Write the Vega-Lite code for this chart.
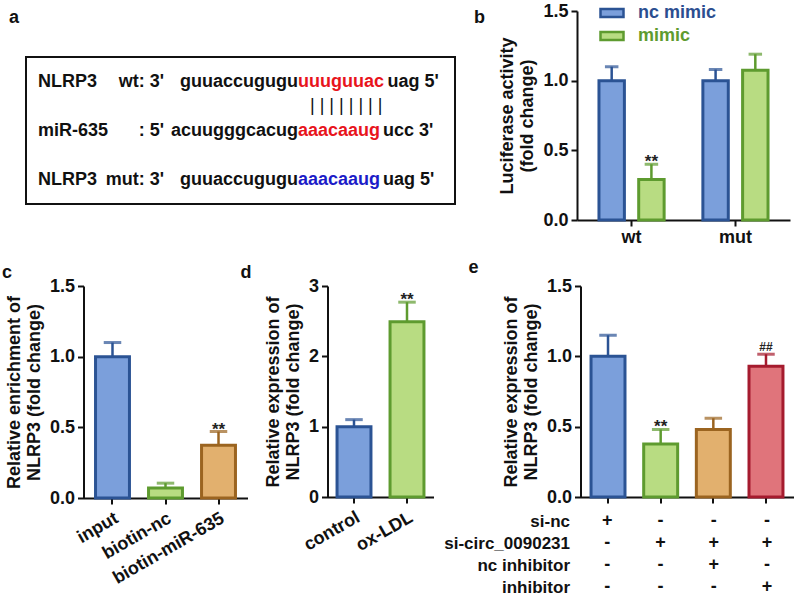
{
  "$schema": "https://vega.github.io/schema/vega-lite/v6.json",
  "background": "white",
  "padding": {"left": 2, "top": 0, "right": 0, "bottom": 0},
  "spacing": 13,
  "resolve": {"scale": {"fill": "independent", "stroke": "independent", "color": "independent"}},
  "config": {
    "font": "Liberation Sans",
    "view": {"stroke": null},
    "axis": {"labelFont": "Liberation Sans", "labelFontSize": 18, "labelFontWeight": "bold", "labelColor": "#111111", "titleFont": "Liberation Sans", "titleFontSize": 18, "titleFontWeight": "bold", "titleColor": "#111111", "domainColor": "#111111", "domainWidth": 2, "tickColor": "#111111", "tickWidth": 2, "tickSize": 6, "grid": false, "titleLineHeight": 20},
    "axisX": {"labelPadding": 2},
    "axisY": {"labelPadding": 3, "titlePadding": 6},
    "title": {"font": "Liberation Sans", "fontSize": 18, "fontWeight": "bold", "color": "#111111", "anchor": "start", "frame": "group", "offset": 0, "baseline": "alphabetic"},
    "text": {"font": "Liberation Sans"}
  },
  "vconcat": [
    {
      "hconcat": [
        {
          "vconcat": [
            {"width": 1, "height": 46, "title": {"text": "a", "dx": -17, "dy": 20}, "data": {"values": [{}]}, "mark": {"type": "point", "opacity": 0}, "encoding": {}},
            {
              "width": 429, "height": 147,
              "view": {"stroke": "#111111", "strokeWidth": 2},
              "title": {"text": "b", "anchor": "end", "align": "left", "dx": 19, "dy": -26},
              "data": {"values": [
                {"line": "wt", "part": "name", "text": "NLRP3", "role": "flank"},
                {"line": "wt", "part": "tag", "text": "wt: 3'", "role": "flank"},
                {"line": "wt", "part": "pre", "text": "guuaccugugu", "role": "flank"},
                {"line": "wt", "part": "seed", "text": "uuuguuac", "role": "binding site"},
                {"line": "wt", "part": "post", "text": "uag 5'", "role": "flank"},
                {"line": "pair", "part": "pair", "text": "|\u00a0|\u00a0|\u00a0|\u00a0|\u00a0|\u00a0|\u00a0|", "role": "flank"},
                {"line": "miR", "part": "name", "text": "miR-635", "role": "flank"},
                {"line": "miR", "part": "tag", "text": ": 5'", "role": "flank"},
                {"line": "miR", "part": "pre", "text": "acuugggcacug", "role": "flank"},
                {"line": "miR", "part": "seed", "text": "aaacaaug", "role": "binding site"},
                {"line": "miR", "part": "post", "text": "ucc 3'", "role": "flank"},
                {"line": "mut", "part": "name", "text": "NLRP3", "role": "flank"},
                {"line": "mut", "part": "tag", "text": "mut: 3'", "role": "flank"},
                {"line": "mut", "part": "pre", "text": "guuaccugugu", "role": "flank"},
                {"line": "mut", "part": "seed", "text": "aaacaaug", "role": "mutated site"},
                {"line": "mut", "part": "post", "text": "uag 5'", "role": "flank"}
              ]},
              "encoding": {
                "y": {"field": "line", "type": "nominal", "scale": {"type": "point", "domain": ["wt", "pair", "miR", "gap", "mut"], "padding": 1.32}, "axis": null},
                "text": {"field": "text", "type": "nominal"},
                "color": {"field": "role", "type": "nominal", "scale": {"domain": ["flank", "binding site", "mutated site"], "range": ["#111111", "#E8141C", "#1C1CC8"]}, "legend": null}
              },
              "layer": [
                {"transform": [{"filter": "datum.part === 'name'"}], "mark": {"type": "text", "align": "left", "baseline": "middle", "dx": -202.5, "fontSize": 18, "fontWeight": "bold"}},
                {"transform": [{"filter": "datum.part === 'tag'"}], "mark": {"type": "text", "align": "right", "baseline": "middle", "dx": -76.5, "fontSize": 18, "fontWeight": "bold"}},
                {"transform": [{"filter": "datum.part === 'pre'"}], "mark": {"type": "text", "align": "right", "baseline": "middle", "dx": 57.5, "fontSize": 18, "fontWeight": "bold"}},
                {"transform": [{"filter": "datum.part === 'seed'"}], "mark": {"type": "text", "align": "left", "baseline": "middle", "dx": 57.5, "fontSize": 18, "fontWeight": "bold"}},
                {"transform": [{"filter": "datum.part === 'post' && datum.line === 'wt'"}], "mark": {"type": "text", "align": "left", "baseline": "middle", "dx": 147, "fontSize": 18, "fontWeight": "bold"}},
                {"transform": [{"filter": "datum.part === 'post' && datum.line !== 'wt'"}], "mark": {"type": "text", "align": "left", "baseline": "middle", "dx": 142.5, "fontSize": 18, "fontWeight": "bold"}},
                {"transform": [{"filter": "datum.part === 'pair'"}], "mark": {"type": "text", "align": "left", "baseline": "middle", "dx": 69.5, "fontSize": 18, "fontWeight": "normal"}}
              ]
            }
          ],
          "spacing": 0,
          "bounds": "flush",
          "resolve": {"scale": {"fill": "independent", "stroke": "independent", "color": "independent"}}
        },
        {
          "width": 213, "height": 209,
          "data": {"values": [
            {"probe": "wt", "group": "nc mimic", "mean": 1.0, "upper": 1.1, "sig": ""},
            {"probe": "wt", "group": "mimic", "mean": 0.29, "upper": 0.4, "sig": "**"},
            {"probe": "mut", "group": "nc mimic", "mean": 1.0, "upper": 1.08, "sig": ""},
            {"probe": "mut", "group": "mimic", "mean": 1.075, "upper": 1.19, "sig": ""}
          ]},
          "encoding": {
            "x": {"field": "probe", "type": "nominal", "sort": ["wt", "mut"], "scale": {"paddingInner": 0.35, "paddingOuter": 0.2}, "axis": {"title": null, "labelAngle": 0}},
            "xOffset": {"field": "group", "type": "nominal", "sort": ["nc mimic", "mimic"], "scale": {"paddingInner": 0.36, "paddingOuter": 0.03}}
          },
          "layer": [
            {
              "mark": {"type": "bar", "strokeWidth": 3},
              "encoding": {
                "y": {"field": "mean", "type": "quantitative", "scale": {"domain": [0, 1.5]}, "axis": {"title": ["Luciferase activity", "(fold change)"], "values": [0, 0.5, 1, 1.5], "format": ".1f"}},
                "fill": {"field": "group", "type": "nominal", "scale": {"domain": ["nc mimic", "mimic"], "range": ["#7B9FDB", "#B8DC82"]},
                  "legend": {"title": null, "orient": "none", "legendX": 22, "legendY": -11, "symbolType": "M-1,-0.35L1,-0.35L1,0.35L-1,0.35Z", "symbolSize": 529, "symbolStrokeWidth": 2.5, "labelFont": "Liberation Sans", "labelFontSize": 18, "labelFontWeight": "bold", "labelOffset": 13, "rowPadding": 0,
                    "encode": {"labels": {"update": {"fill": {"signal": "datum.value === 'nc mimic' ? '#2B4E90' : '#5E9B2F'"}}}, "symbols": {"update": {"stroke": {"signal": "datum.value === 'nc mimic' ? '#2B5394' : '#5E9B2F'"}, "strokeWidth": {"value": 2.5}}}}}},
                "stroke": {"field": "group", "type": "nominal", "scale": {"domain": ["nc mimic", "mimic"], "range": ["#2B5394", "#5E9B2F"]}, "legend": null}
              }
            },
            {
              "mark": {"type": "rule", "strokeWidth": 2.5},
              "encoding": {
                "y": {"field": "mean", "type": "quantitative", "scale": {"domain": [0, 1.5]}, "axis": {"title": ["Luciferase activity", "(fold change)"], "values": [0, 0.5, 1, 1.5], "format": ".1f"}},
                "y2": {"field": "upper"},
                "stroke": {"field": "group", "type": "nominal", "scale": {"domain": ["nc mimic", "mimic"], "range": ["#2B5394", "#5E9B2F"]}, "legend": null}
              }
            },
            {
              "mark": {"type": "tick", "filled": false, "thickness": 0.5, "size": 11, "strokeWidth": 2.5},
              "encoding": {
                "y": {"field": "upper", "type": "quantitative", "scale": {"domain": [0, 1.5]}, "axis": {"title": ["Luciferase activity", "(fold change)"], "values": [0, 0.5, 1, 1.5], "format": ".1f"}},
                "stroke": {"field": "group", "type": "nominal", "scale": {"domain": ["nc mimic", "mimic"], "range": ["#2B5394", "#5E9B2F"]}, "legend": null}
              }
            },
            {
              "mark": {"type": "text", "baseline": "alphabetic", "dy": 3, "fontSize": 17, "fontWeight": "bold", "color": "#222222"},
              "encoding": {
                "y": {"field": "upper", "type": "quantitative", "scale": {"domain": [0, 1.5]}, "axis": {"title": ["Luciferase activity", "(fold change)"], "values": [0, 0.5, 1, 1.5], "format": ".1f"}},
                "text": {"field": "sig", "type": "nominal"}
              }
            }
          ]
        }
      ],
      "spacing": 12,
      "resolve": {"scale": {"fill": "independent", "stroke": "independent", "color": "independent"}}
    },
    {
      "hconcat": [
        {
          "hconcat": [
            {"width": 17.5, "height": 10, "title": {"text": "c", "dx": -24, "dy": 0}, "data": {"values": [{}]}, "mark": {"type": "point", "opacity": 0}, "encoding": {}},
            {
              "width": 164, "height": 212,
              "data": {"values": [
                {"probe": "input", "mean": 1.0, "upper": 1.1, "sig": ""},
                {"probe": "biotin-nc", "mean": 0.07, "upper": 0.105, "sig": ""},
                {"probe": "biotin-miR-635", "mean": 0.373, "upper": 0.47, "sig": "**"}
              ]},
              "encoding": {
                "x": {"field": "probe", "type": "nominal", "sort": ["input", "biotin-nc", "biotin-miR-635"], "scale": {"paddingInner": 0.36, "paddingOuter": 0.227}, "axis": {"title": null, "labelAngle": -30, "labelAlign": "right", "labelBaseline": "top", "labelPadding": 5}}
              },
              "layer": [
                {
                  "mark": {"type": "bar", "strokeWidth": 3},
                  "encoding": {
                    "y": {"field": "mean", "type": "quantitative", "scale": {"domain": [0, 1.5]}, "axis": {"title": ["Relative enrichment of", "NLRP3 (fold change)"], "values": [0, 0.5, 1, 1.5], "format": ".1f"}},
                    "fill": {"field": "probe", "type": "nominal", "scale": {"domain": ["input", "biotin-nc", "biotin-miR-635"], "range": ["#7B9FDB", "#B8DC82", "#E2B06E"]}, "legend": null},
                    "stroke": {"field": "probe", "type": "nominal", "scale": {"domain": ["input", "biotin-nc", "biotin-miR-635"], "range": ["#2B5394", "#5E9B2F", "#9B6420"]}, "legend": null}
                  }
                },
                {
                  "mark": {"type": "rule", "strokeWidth": 2.5},
                  "encoding": {
                    "y": {"field": "mean", "type": "quantitative", "scale": {"domain": [0, 1.5]}, "axis": {"title": ["Relative enrichment of", "NLRP3 (fold change)"], "values": [0, 0.5, 1, 1.5], "format": ".1f"}},
                    "y2": {"field": "upper"},
                    "stroke": {"field": "probe", "type": "nominal", "scale": {"domain": ["input", "biotin-nc", "biotin-miR-635"], "range": ["#2B5394", "#5E9B2F", "#9B6420"]}, "legend": null}
                  }
                },
                {
                  "mark": {"type": "tick", "filled": false, "thickness": 0.5, "size": 15, "strokeWidth": 2.5},
                  "encoding": {
                    "y": {"field": "upper", "type": "quantitative", "scale": {"domain": [0, 1.5]}, "axis": {"title": ["Relative enrichment of", "NLRP3 (fold change)"], "values": [0, 0.5, 1, 1.5], "format": ".1f"}},
                    "stroke": {"field": "probe", "type": "nominal", "scale": {"domain": ["input", "biotin-nc", "biotin-miR-635"], "range": ["#2B5394", "#5E9B2F", "#9B6420"]}, "legend": null}
                  }
                },
                {
                  "mark": {"type": "text", "baseline": "alphabetic", "dy": 3, "fontSize": 17, "fontWeight": "bold", "color": "#222222"},
                  "encoding": {
                    "y": {"field": "upper", "type": "quantitative", "scale": {"domain": [0, 1.5]}, "axis": {"title": ["Relative enrichment of", "NLRP3 (fold change)"], "values": [0, 0.5, 1, 1.5], "format": ".1f"}},
                    "text": {"field": "sig", "type": "nominal"}
                  }
                }
              ]
            },
            {"width": 1, "height": 10, "title": {"text": "d", "dx": -46.5, "dy": 0}, "data": {"values": [{}]}, "mark": {"type": "point", "opacity": 0}, "encoding": {}},
            {
              "width": 106, "height": 211,
              "data": {"values": [
                {"probe": "control", "mean": 1.0, "upper": 1.1, "sig": ""},
                {"probe": "ox-LDL", "mean": 2.49, "upper": 2.77, "sig": "**"}
              ]},
              "encoding": {
                "x": {"field": "probe", "type": "nominal", "sort": ["control", "ox-LDL"], "scale": {"paddingInner": 0.36, "paddingOuter": 0.18}, "axis": {"title": null, "labelAngle": -30, "labelAlign": "right", "labelBaseline": "top", "labelPadding": 5}}
              },
              "layer": [
                {
                  "mark": {"type": "bar", "strokeWidth": 3},
                  "encoding": {
                    "y": {"field": "mean", "type": "quantitative", "scale": {"domain": [0, 3]}, "axis": {"title": ["Relative expression of", "NLRP3 (fold change)"], "values": [0, 1, 2, 3], "format": "d"}},
                    "fill": {"field": "probe", "type": "nominal", "scale": {"domain": ["control", "ox-LDL"], "range": ["#7B9FDB", "#B8DC82"]}, "legend": null},
                    "stroke": {"field": "probe", "type": "nominal", "scale": {"domain": ["control", "ox-LDL"], "range": ["#2B5394", "#5E9B2F"]}, "legend": null}
                  }
                },
                {
                  "mark": {"type": "rule", "strokeWidth": 2.5},
                  "encoding": {
                    "y": {"field": "mean", "type": "quantitative", "scale": {"domain": [0, 3]}, "axis": {"title": ["Relative expression of", "NLRP3 (fold change)"], "values": [0, 1, 2, 3], "format": "d"}},
                    "y2": {"field": "upper"},
                    "stroke": {"field": "probe", "type": "nominal", "scale": {"domain": ["control", "ox-LDL"], "range": ["#2B5394", "#5E9B2F"]}, "legend": null}
                  }
                },
                {
                  "mark": {"type": "tick", "filled": false, "thickness": 0.5, "size": 15, "strokeWidth": 2.5},
                  "encoding": {
                    "y": {"field": "upper", "type": "quantitative", "scale": {"domain": [0, 3]}, "axis": {"title": ["Relative expression of", "NLRP3 (fold change)"], "values": [0, 1, 2, 3], "format": "d"}},
                    "stroke": {"field": "probe", "type": "nominal", "scale": {"domain": ["control", "ox-LDL"], "range": ["#2B5394", "#5E9B2F"]}, "legend": null}
                  }
                },
                {
                  "mark": {"type": "text", "baseline": "alphabetic", "dy": 3, "fontSize": 17, "fontWeight": "bold", "color": "#222222"},
                  "encoding": {
                    "y": {"field": "upper", "type": "quantitative", "scale": {"domain": [0, 3]}, "axis": {"title": ["Relative expression of", "NLRP3 (fold change)"], "values": [0, 1, 2, 3], "format": "d"}},
                    "text": {"field": "sig", "type": "nominal"}
                  }
                }
              ]
            }
          ],
          "spacing": 39.5,
          "bounds": "flush",
          "resolve": {"scale": {"fill": "independent", "stroke": "independent", "color": "independent"}}
        },
        {
          "vconcat": [
            {
              "width": 213, "height": 211,
              "title": {"text": "e", "dx": -112, "dy": 4},
              "data": {"values": [
                {"cond": "si-nc", "mean": 1.0, "upper": 1.15, "sig": ""},
                {"cond": "si-circ_0090231", "mean": 0.376, "upper": 0.48, "sig": "**"},
                {"cond": "si-circ_0090231 + nc inhibitor", "mean": 0.48, "upper": 0.56, "sig": ""},
                {"cond": "si-circ_0090231 + inhibitor", "mean": 0.93, "upper": 1.015, "sig": "##"}
              ]},
              "encoding": {
                "x": {"field": "cond", "type": "nominal", "sort": ["si-nc", "si-circ_0090231", "si-circ_0090231 + nc inhibitor", "si-circ_0090231 + inhibitor"], "scale": {"paddingInner": 0.355, "paddingOuter": 0.2}, "axis": {"title": null, "labels": false}}
              },
              "layer": [
                {
                  "mark": {"type": "bar", "strokeWidth": 3},
                  "encoding": {
                    "y": {"field": "mean", "type": "quantitative", "scale": {"domain": [0, 1.5]}, "axis": {"title": ["Relative expression of", "NLRP3 (fold change)"], "values": [0, 0.5, 1, 1.5], "format": ".1f"}},
                    "fill": {"field": "cond", "type": "nominal", "scale": {"domain": ["si-nc", "si-circ_0090231", "si-circ_0090231 + nc inhibitor", "si-circ_0090231 + inhibitor"], "range": ["#7B9FDB", "#B8DC82", "#E2B06E", "#E0747B"]}, "legend": null},
                    "stroke": {"field": "cond", "type": "nominal", "scale": {"domain": ["si-nc", "si-circ_0090231", "si-circ_0090231 + nc inhibitor", "si-circ_0090231 + inhibitor"], "range": ["#2B5394", "#5E9B2F", "#9B6420", "#A51B2E"]}, "legend": null}
                  }
                },
                {
                  "mark": {"type": "rule", "strokeWidth": 2.5},
                  "encoding": {
                    "y": {"field": "mean", "type": "quantitative", "scale": {"domain": [0, 1.5]}, "axis": {"title": ["Relative expression of", "NLRP3 (fold change)"], "values": [0, 0.5, 1, 1.5], "format": ".1f"}},
                    "y2": {"field": "upper"},
                    "stroke": {"field": "cond", "type": "nominal", "scale": {"domain": ["si-nc", "si-circ_0090231", "si-circ_0090231 + nc inhibitor", "si-circ_0090231 + inhibitor"], "range": ["#2B5394", "#5E9B2F", "#9B6420", "#A51B2E"]}, "legend": null}
                  }
                },
                {
                  "mark": {"type": "tick", "filled": false, "thickness": 0.5, "size": 15, "strokeWidth": 2.5},
                  "encoding": {
                    "y": {"field": "upper", "type": "quantitative", "scale": {"domain": [0, 1.5]}, "axis": {"title": ["Relative expression of", "NLRP3 (fold change)"], "values": [0, 0.5, 1, 1.5], "format": ".1f"}},
                    "stroke": {"field": "cond", "type": "nominal", "scale": {"domain": ["si-nc", "si-circ_0090231", "si-circ_0090231 + nc inhibitor", "si-circ_0090231 + inhibitor"], "range": ["#2B5394", "#5E9B2F", "#9B6420", "#A51B2E"]}, "legend": null}
                  }
                },
                {
                  "transform": [{"filter": "datum.sig === '**'"}],
                  "mark": {"type": "text", "baseline": "alphabetic", "dy": 3, "fontSize": 17, "fontWeight": "bold", "color": "#222222"},
                  "encoding": {
                    "y": {"field": "upper", "type": "quantitative", "scale": {"domain": [0, 1.5]}, "axis": {"title": ["Relative expression of", "NLRP3 (fold change)"], "values": [0, 0.5, 1, 1.5], "format": ".1f"}},
                    "text": {"field": "sig", "type": "nominal"}
                  }
                },
                {
                  "transform": [{"filter": "datum.sig === '##'"}],
                  "mark": {"type": "text", "baseline": "alphabetic", "dy": -3, "fontSize": 12, "fontWeight": "bold", "color": "#222222"},
                  "encoding": {
                    "y": {"field": "upper", "type": "quantitative", "scale": {"domain": [0, 1.5]}, "axis": {"title": ["Relative expression of", "NLRP3 (fold change)"], "values": [0, 0.5, 1, 1.5], "format": ".1f"}},
                    "text": {"field": "sig", "type": "nominal"}
                  }
                }
              ]
            },
            {
              "width": 213, "height": 88,
              "data": {"values": [
                {"cond": "si-nc", "factor": "si-nc", "sign": "+"},
                {"cond": "si-circ_0090231", "factor": "si-nc", "sign": "-"},
                {"cond": "si-circ_0090231 + nc inhibitor", "factor": "si-nc", "sign": "-"},
                {"cond": "si-circ_0090231 + inhibitor", "factor": "si-nc", "sign": "-"},
                {"cond": "si-nc", "factor": "si-circ_0090231", "sign": "-"},
                {"cond": "si-circ_0090231", "factor": "si-circ_0090231", "sign": "+"},
                {"cond": "si-circ_0090231 + nc inhibitor", "factor": "si-circ_0090231", "sign": "+"},
                {"cond": "si-circ_0090231 + inhibitor", "factor": "si-circ_0090231", "sign": "+"},
                {"cond": "si-nc", "factor": "nc inhibitor", "sign": "-"},
                {"cond": "si-circ_0090231", "factor": "nc inhibitor", "sign": "-"},
                {"cond": "si-circ_0090231 + nc inhibitor", "factor": "nc inhibitor", "sign": "+"},
                {"cond": "si-circ_0090231 + inhibitor", "factor": "nc inhibitor", "sign": "-"},
                {"cond": "si-nc", "factor": "inhibitor", "sign": "-"},
                {"cond": "si-circ_0090231", "factor": "inhibitor", "sign": "-"},
                {"cond": "si-circ_0090231 + nc inhibitor", "factor": "inhibitor", "sign": "-"},
                {"cond": "si-circ_0090231 + inhibitor", "factor": "inhibitor", "sign": "+"}
              ]},
              "mark": {"type": "text", "fontSize": 18, "fontWeight": "bold", "color": "#111111", "baseline": "middle"},
              "encoding": {
                "x": {"field": "cond", "type": "nominal", "sort": ["si-nc", "si-circ_0090231", "si-circ_0090231 + nc inhibitor", "si-circ_0090231 + inhibitor"], "scale": {"paddingInner": 0.355, "paddingOuter": 0.2}, "axis": null},
                "y": {"field": "factor", "type": "nominal", "sort": ["si-nc", "si-circ_0090231", "nc inhibitor", "inhibitor"], "scale": {"paddingInner": 0, "paddingOuter": 0}, "axis": {"title": null, "domain": false, "ticks": false, "labelPadding": 11, "labelFontSize": 17}},
                "text": {"field": "sign", "type": "nominal"}
              }
            }
          ],
          "spacing": 13,
          "bounds": "flush",
          "resolve": {"scale": {"fill": "independent", "stroke": "independent", "color": "independent"}}
        }
      ],
      "spacing": 9.5,
      "resolve": {"scale": {"fill": "independent", "stroke": "independent", "color": "independent"}}
    }
  ]
}
